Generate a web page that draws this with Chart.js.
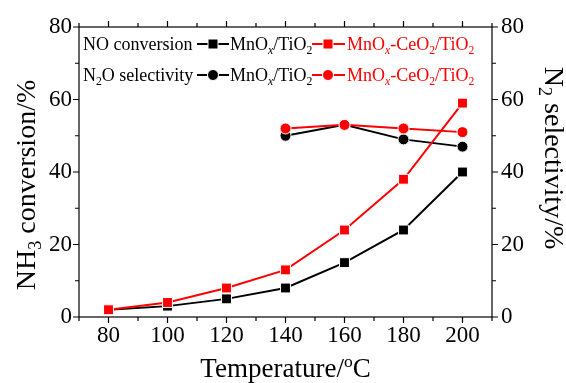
<!DOCTYPE html>
<html>
<head>
<meta charset="utf-8">
<script src="https://cdn.jsdelivr.net/npm/chart.js@4"></script>
<style>
html,body{margin:0;padding:0;background:#fff;}
#wrap{width:566px;height:383px;}
</style>
</head>
<body>
<div id="wrap"><canvas id="c" width="566" height="383"></canvas></div>
<script>
const temps = [80, 100, 120, 140, 160, 180, 200];
const noMn = [2, 3, 5, 8, 15, 24, 40];
const noMnCe = [2, 4, 8, 13, 24, 38, 59];
const selMn = [null, null, null, 50, 53, 49, 47];
const selMnCe = [null, null, null, 52, 53, 52, 51];
const xTicks = [80, 100, 120, 140, 160, 180, 200];
const yTicks = [0, 20, 40, 60, 80];

const FONT = "'Liberation Serif', 'DejaVu Serif', serif";
const RED = '#ff0000';

function pts(vals){
    return temps.map((t,i)=>({x:t, y:vals[i]})).filter(p=>p.y!==null);
}

// draw text with sub/superscripts, returns width
function rich(ctx, parts, x, y, size, color, measureOnly){
    let w = 0;
    parts.forEach(p=>{
        let [txt, mode] = p;
        let s = size, dy = 0, style = '';
        if(mode==='sub'||mode==='isub'){ s = size*0.65; dy = size*0.22; }
        if(mode==='sup'){ s = size*0.65; dy = -size*0.38; }
        if(mode==='isub') style = 'italic ';
        ctx.font = style + s + 'px ' + FONT;
        if(!measureOnly){
            ctx.fillStyle = color;
            ctx.fillText(txt, x + w, y + dy);
        }
        w += ctx.measureText(txt).width;
    });
    return w;
}

const mnTi = [['MnO','n'],['x','isub'],['/TiO','n'],['2','sub']];
const mnCeTi = [['MnO','n'],['x','isub'],['-CeO','n'],['2','sub'],['/TiO','n'],['2','sub']];

function marker(ctx, shape, x, y, color){
    ctx.fillStyle = color;
    ctx.strokeStyle = '#fff';
    ctx.lineWidth = 1;
    ctx.beginPath();
    if(shape==='rect') ctx.rect(x-5, y-5, 10, 10);
    else ctx.arc(x, y, 5.5, 0, Math.PI*2);
    ctx.fill();
    ctx.stroke();
}

const decor = {
    id: 'decor',
    afterDraw(chart){
        const ctx = chart.ctx;
        const a = chart.chartArea;
        const xs = chart.scales.x, ys = chart.scales.y, y2 = chart.scales.y2;
        ctx.save();
        ctx.strokeStyle = '#000';
        ctx.lineWidth = 1.2;
        ctx.strokeRect(a.left, a.top, a.right-a.left, a.bottom-a.top);
        ctx.beginPath();
        for(let v=70; v<=210; v+=10){
            const px = xs.getPixelForValue(v);
            const len = v%20===0 ? 6 : 4;
            ctx.moveTo(px, a.bottom); ctx.lineTo(px, a.bottom+len);
            ctx.moveTo(px, a.top); ctx.lineTo(px, a.top-len);
        }
        for(let v=0; v<=80; v+=10){
            const len = v%20===0 ? 6 : 4;
            const py = ys.getPixelForValue(v);
            ctx.moveTo(a.left, py); ctx.lineTo(a.left-len, py);
            const py2 = y2.getPixelForValue(v);
            ctx.moveTo(a.right, py2); ctx.lineTo(a.right+len, py2);
        }
        ctx.stroke();

        ctx.textBaseline = 'alphabetic';
        // x title
        let tp = [['Temperature/','n'],['o','sup'],['C','n']];
        let w = rich(ctx, tp, 0, 0, 27, '#000', true);
        rich(ctx, tp, (a.left+a.right)/2 - w/2, 377, 27, '#000');
        // left title
        tp = [['NH','n'],['3','sub'],[' conversion/%','n']];
        w = rich(ctx, tp, 0, 0, 28, '#000', true);
        ctx.save();
        ctx.translate(35, 185);
        ctx.rotate(-Math.PI/2);
        rich(ctx, tp, -w/2, 0, 28, '#000');
        ctx.restore();
        // right title
        tp = [['N','n'],['2','sub'],[' selectivity/%','n']];
        w = rich(ctx, tp, 0, 0, 28, '#000', true);
        ctx.save();
        ctx.translate(545, 158);
        ctx.rotate(Math.PI/2);
        rich(ctx, tp, -w/2, 0, 28, '#000');
        ctx.restore();

        // legend
        const rows = [
            {label:[['NO conversion','n']], shape:'rect', y:50},
            {label:[['N','n'],['2','sub'],['O selectivity','n']], shape:'circle', y:81}
        ];
        rows.forEach(r=>{
            rich(ctx, r.label, 83, r.y, 18, '#000');
            const my = r.y - 6;
            ctx.lineWidth = 2;
            ctx.strokeStyle = '#000';
            ctx.beginPath(); ctx.moveTo(197, my); ctx.lineTo(229, my); ctx.stroke();
            marker(ctx, r.shape, 213, my, '#000');
            rich(ctx, mnTi, 230, r.y, 18, '#000');
            ctx.lineWidth = 2;
            ctx.strokeStyle = RED;
            ctx.beginPath(); ctx.moveTo(312, my); ctx.lineTo(345, my); ctx.stroke();
            marker(ctx, r.shape, 328, my, RED);
            rich(ctx, mnCeTi, 347, r.y, 18, RED);
        });
        ctx.restore();
    }
};

function ds(label, data, color, shape, axis){
    return {
        label, data: pts(data), yAxisID: axis,
        borderColor: color, backgroundColor: color,
        borderWidth: 2, pointStyle: shape,
        pointRadius: shape==='rect' ? 7 : 5.5,
        pointBorderColor: '#fff', pointBorderWidth: 1,
        pointBackgroundColor: color, tension: 0, clip: false
    };
}

const tickFont = {family: FONT, size: 23};
const noGrid = {display: false, drawTicks: false, tickLength: 0};

new Chart(document.getElementById('c'), {
    type: 'line',
    data: {
        datasets: [
            ds('NO conversion MnOx-CeO2/TiO2', noMnCe, RED, 'rect', 'y'),
            ds('N2O selectivity MnOx-CeO2/TiO2', selMnCe, RED, 'circle', 'y2'),
            ds('NO conversion MnOx/TiO2', noMn, '#000', 'rect', 'y'),
            ds('N2O selectivity MnOx/TiO2', selMn, '#000', 'circle', 'y2')
        ]
    },
    options: {
        responsive: false,
        animation: false,
        layout: {padding: {top: 27, left: 0, right: 0, bottom: 0}},
        plugins: {legend: {display: false}, tooltip: {enabled: false}},
        scales: {
            x: {
                type: 'linear', min: 70, max: 210,
                afterBuildTicks: s => { s.ticks = xTicks.map(v=>({value:v})); },
                ticks: {font: tickFont, color: '#000', padding: 5, maxRotation: 0, autoSkip: false},
                grid: noGrid, border: {display: false},
                afterFit: s => { s.height = 66; }
            },
            y: {
                position: 'left', min: 0, max: 80,
                afterBuildTicks: s => { s.ticks = yTicks.map(v=>({value:v})); },
                ticks: {font: tickFont, color: '#000', padding: 7},
                grid: noGrid, border: {display: false},
                afterFit: s => { s.width = 79; }
            },
            y2: {
                position: 'right', min: 0, max: 80,
                afterBuildTicks: s => { s.ticks = yTicks.map(v=>({value:v})); },
                ticks: {font: tickFont, color: '#000', padding: 9},
                grid: noGrid, border: {display: false},
                afterFit: s => { s.width = 74; }
            }
        }
    },
    plugins: [decor]
});
</script>
</body>
</html>
